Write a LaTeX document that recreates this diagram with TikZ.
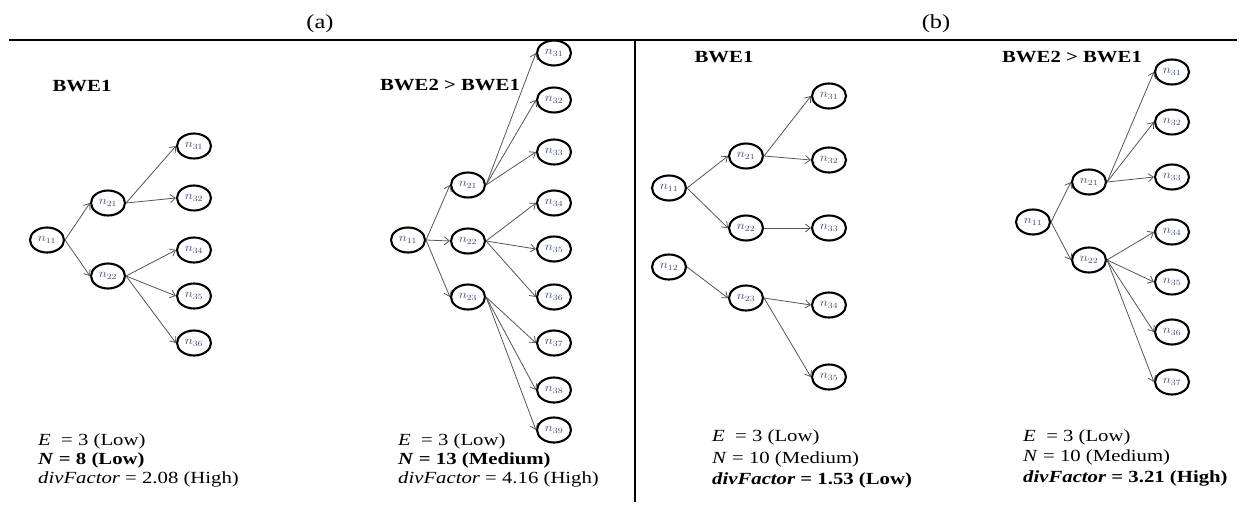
\documentclass[tikz,border=0pt]{standalone}
\usepackage{fontspec}
\setmainfont{Liberation Serif}
\usepackage{graphicx}
\usetikzlibrary{shapes.geometric,arrows.meta}
\definecolor{lbl}{RGB}{60,75,115}
\definecolor{edgec}{RGB}{85,85,85}
\newcommand\hs[1]{\scalebox{1.22}[1]{#1}}
\newcommand\nn[1]{\scalebox{1.15}[1]{$n_{#1}$}}
\tikzset{
  nd/.style={ellipse, draw, line width=2.1pt, minimum width=34pt, minimum height=25pt, inner sep=0pt, font=\fontsize{12}{12}\selectfont, text=lbl},
  ar/.style={draw=edgec, line width=0.8pt, -{Straight Barb[length=5pt,width=8pt]}},
  ttl/.style={inner sep=0pt, font=\fontsize{17}{19}\selectfont\bfseries},
  blk/.style={anchor=west, inner sep=0pt, font=\fontsize{17}{19}\selectfont},
  captxt/.style={inner sep=0pt, font=\fontsize{20}{22}\selectfont},
  rulew/.style={line width=1.8pt}
}
\begin{document}
\begin{tikzpicture}[x=1pt,y=-1pt]
\useasboundingbox (0,0) rectangle (1245,506);
% frame lines
\coordinate (hl) at (9,40);
\coordinate (hr) at (1237,40);
\coordinate (vt) at (635,40);
\coordinate (vb) at (635,502);
\draw[rulew] (hl) -- (hr);
\draw[rulew] (vt) -- (vb);
\node[captxt] (capa) at (320,24) {\hs{(a)}};
\node[captxt] (capb) at (936,24) {\hs{(b)}};
% ---------- panel a, left ----------
\node[ttl] (Attl) at (82,86) {\hs{BWE1}};
\node[nd] (A11) at (47,240) {\nn{11}};
\node[nd] (A21) at (108,203) {\nn{21}};
\node[nd] (A22) at (108,276) {\nn{22}};
\node[nd] (A31) at (194,146) {\nn{31}};
\node[nd] (A32) at (194,198) {\nn{32}};
\node[nd] (A34) at (194,250) {\nn{34}};
\node[nd] (A35) at (194,296) {\nn{35}};
\node[nd] (A36) at (194,343) {\nn{36}};
\foreach \s/\t in {A11/A21,A11/A22,A21/A31,A21/A32,A22/A34,A22/A35,A22/A36}
  \draw[ar] (\s.east) -- (\t.west);
\node[blk] (Atxt) at (38,461) {\hs{\begin{tabular}{@{}l@{}}\textit{E}~~= 3 (Low)\\ \textbf{\textit{N} = 8 (Low)}\\ \textit{divFactor} = 2.08 (High)\end{tabular}}};
% ---------- panel a, right ----------
\node[ttl] (Bttl) at (450,85) {\hs{BWE2 > BWE1}};
\node[nd] (B11) at (408,240) {\nn{11}};
\node[nd] (B21) at (468,185) {\nn{21}};
\node[nd] (B22) at (468,241) {\nn{22}};
\node[nd] (B23) at (468,297) {\nn{23}};
\node[nd] (B31) at (554,53) {\nn{31}};
\node[nd] (B32) at (554,100) {\nn{32}};
\node[nd] (B33) at (554,152) {\nn{33}};
\node[nd] (B34) at (554,203) {\nn{34}};
\node[nd] (B35) at (554,249) {\nn{35}};
\node[nd] (B36) at (554,297) {\nn{36}};
\node[nd] (B37) at (554,343) {\nn{37}};
\node[nd] (B38) at (554,390) {\nn{38}};
\node[nd] (B39) at (554,430) {\nn{39}};
\foreach \s/\t in {B11/B21,B11/B22,B11/B23,B21/B31,B21/B32,B21/B33,B22/B34,B22/B35,B22/B36,B23/B37,B23/B38,B23/B39}
  \draw[ar] (\s.east) -- (\t.west);
\node[blk] (Btxt) at (398,461) {\hs{\begin{tabular}{@{}l@{}}\textit{E}~~= 3 (Low)\\ \textbf{\textit{N} = 13 (Medium)}\\ \textit{divFactor} = 4.16 (High)\end{tabular}}};
% ---------- panel b, left ----------
\node[ttl] (Cttl) at (724,57) {\hs{BWE1}};
\node[nd] (C11) at (669,188) {\nn{11}};
\node[nd] (C12) at (669,267) {\nn{12}};
\node[nd] (C21) at (746,156) {\nn{21}};
\node[nd] (C22) at (746,228) {\nn{22}};
\node[nd] (C23) at (746,298) {\nn{23}};
\node[nd] (C31) at (829,96) {\nn{31}};
\node[nd] (C32) at (829,160) {\nn{32}};
\node[nd] (C33) at (829,228) {\nn{33}};
\node[nd] (C34) at (829,305) {\nn{34}};
\node[nd] (C35) at (829,377) {\nn{35}};
\foreach \s/\t in {C11/C21,C11/C22,C21/C31,C21/C32,C22/C33,C12/C23,C23/C34,C23/C35}
  \draw[ar] (\s.east) -- (\t.west);
\node[blk,font=\fontsize{17}{21.5}\selectfont] (Ctxt) at (712,459) {\hs{\begin{tabular}{@{}l@{}}\textit{E}~~= 3 (Low)\\ \textit{N} = 10 (Medium)\\ \textbf{\textit{divFactor} = 1.53 (Low)}\end{tabular}}};
% ---------- panel b, right ----------
\node[ttl] (Dttl) at (1072,57) {\hs{BWE2 > BWE1}};
\node[nd] (D11) at (1033,222) {\nn{11}};
\node[nd] (D21) at (1089,182) {\nn{21}};
\node[nd] (D22) at (1089,260) {\nn{22}};
\node[nd] (D31) at (1172,72) {\nn{31}};
\node[nd] (D32) at (1172,122) {\nn{32}};
\node[nd] (D33) at (1172,177) {\nn{33}};
\node[nd] (D34) at (1172,232) {\nn{34}};
\node[nd] (D35) at (1172,282) {\nn{35}};
\node[nd] (D36) at (1172,332) {\nn{36}};
\node[nd] (D37) at (1172,382) {\nn{37}};
\foreach \s/\t in {D11/D21,D11/D22,D21/D31,D21/D32,D21/D33,D22/D34,D22/D35,D22/D36,D22/D37}
  \draw[ar] (\s.east) -- (\t.west);
\node[blk,font=\fontsize{17}{20.5}\selectfont] (Dtxt) at (1023,457.5) {\hs{\begin{tabular}{@{}l@{}}\textit{E}~~= 3 (Low)\\ \textit{N} = 10 (Medium)\\ \textbf{\textit{divFactor} = 3.21 (High)}\end{tabular}}};
\end{tikzpicture}
\end{document}
